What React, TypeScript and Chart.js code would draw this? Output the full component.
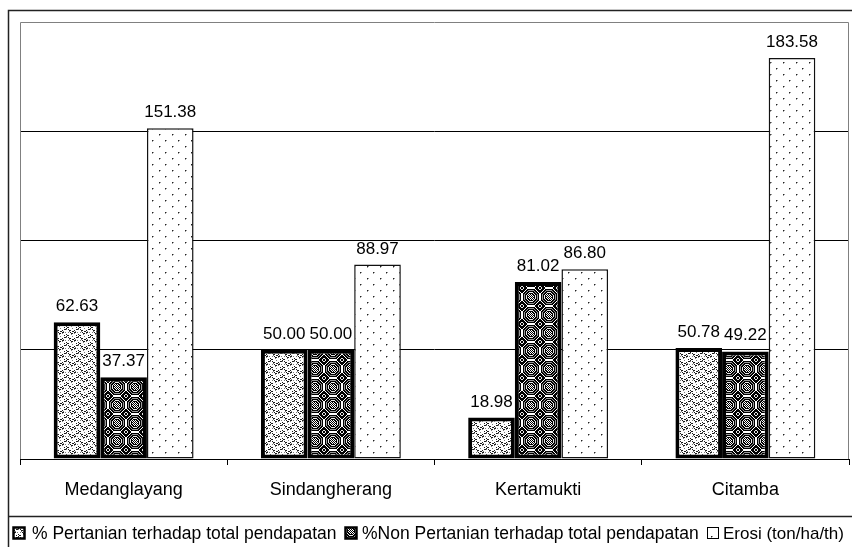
import { useEffect, useRef } from "react";
import { Chart, registerables } from "chart.js";

Chart.register(...registerables);

const categories = ["Medanglayang", "Sindangherang", "Kertamukti", "Citamba"];
const pertanian = [62.63, 50.0, 18.98, 50.78];
const nonPertanian = [37.37, 50.0, 81.02, 49.22];
const erosi = [151.38, 88.97, 86.8, 183.58];
const seriesLabels = [
  "% Pertanian terhadap total pendapatan",
  "%Non Pertanian terhadap total pendapatan",
  "Erosi (ton/ha/th)",
];
const yMin = 0;
const yMax = 200;
const yStep = 50;

const FONT = '"Liberation Sans", Arial, sans-serif';

function makeTile(w: number, h: number, fn: (x: number, y: number) => string | null) {
  const c = document.createElement("canvas");
  c.width = w;
  c.height = h;
  const g = c.getContext("2d")!;
  g.fillStyle = "#fff";
  g.fillRect(0, 0, w, h);
  for (let y = 0; y < h; y++) {
    for (let x = 0; x < w; x++) {
      const col = fn(x, y);
      if (col) {
        g.fillStyle = col;
        g.fillRect(x, y, 1, 1);
      }
    }
  }
  return c;
}

function makePatterns(ctx: CanvasRenderingContext2D) {
  // zigzag chevrons
  const t1 = makeTile(12, 8, (x, y) => {
    const yz = Math.round(Math.abs(x - 6) / 2);
    const yy = y % 4;
    const row = Math.floor(y / 4);
    const shift = row === 0 ? 0 : 2;
    if (yy === (yz + shift) % 4 && (x + row * 2) % 4 !== 3) return "#1a1a1a";
    if (yy === (yz + shift + 1) % 4 && (x + row) % 3 === 0) return "#7a7a7a";
    return null;
  });
  // concentric octagons, dark
  const t2 = makeTile(18, 18, (x, y) => {
    const dx = Math.abs(x - 8.5);
    const dy = Math.abs(y - 8.5);
    const d = Math.max(dx, dy, (dx + dy) * 0.72);
    if (d < 3) return (x + y) % 2 === 0 ? "#000" : "#fff";
    const r = Math.floor(d - 3);
    const cols = ["#000", "#e8e8e8", "#000", "#9a9a9a", "#000", "#fff", "#000"];
    return cols[r % cols.length];
  });
  // sparse dots
  const t3 = makeTile(13, 12, (x, y) => {
    if ((x === 3 && y === 2) || (x === 9 && y === 8)) return "#222";
    if ((x === 4 && y === 2) || (x === 10 && y === 8) || (x === 3 && y === 3) || (x === 9 && y === 9)) return "#999";
    return null;
  });
  return [
    ctx.createPattern(t1, "repeat")!,
    ctx.createPattern(t2, "repeat")!,
    ctx.createPattern(t3, "repeat")!,
  ];
}

export default function App() {
  const ref = useRef<HTMLCanvasElement>(null);

  useEffect(() => {
    const canvas = ref.current!;
    const ctx0 = canvas.getContext("2d")!;
    const pats = makePatterns(ctx0);
    const borderWidths = [4, 4, 1.5];

    const framePlugin = {
      id: "frame",
      beforeDraw(chart: any) {
        const c = chart.ctx;
        c.save();
        c.fillStyle = "#fff";
        c.fillRect(0, 0, chart.width, chart.height);
        c.restore();
      },
      beforeDatasetsDraw(chart: any) {
        const c = chart.ctx;
        const a = chart.chartArea;
        c.save();
        c.strokeStyle = "#808080";
        c.lineWidth = 1;
        c.beginPath();
        c.moveTo(a.left + 0.5, a.bottom);
        c.lineTo(a.left + 0.5, a.top + 0.5);
        c.lineTo(a.right - 0.5, a.top + 0.5);
        c.lineTo(a.right - 0.5, a.bottom);
        c.stroke();
        c.restore();
      },
      afterDatasetsDraw(chart: any) {
        const c = chart.ctx;
        c.save();
        c.font = `17px ${FONT}`;
        c.fillStyle = "#000";
        c.textAlign = "center";
        c.textBaseline = "alphabetic";
        chart.data.datasets.forEach((ds: any, i: number) => {
          const meta = chart.getDatasetMeta(i);
          meta.data.forEach((el: any, j: number) => {
            const v = ds.data[j] as number;
            c.fillText(v.toFixed(2), el.x, el.y - 11);
          });
        });
        c.restore();
      },
      afterDraw(chart: any) {
        const c = chart.ctx;
        c.save();
        // outer frame
        c.strokeStyle = "#222";
        c.lineWidth = 1.5;
        c.strokeRect(8.5, 10.5, 900, 700);
        // legend frame top
        c.beginPath();
        c.moveTo(8, 516.5);
        c.lineTo(chart.width, 516.5);
        c.stroke();
        // legend items
        const boxX = [13, 345, 707];
        const textX = [32, 362, 723];
        const maxW = [308, 340, 126];
        const sizes = [17.5, 17.5, 17];
        c.textBaseline = "alphabetic";
        c.textAlign = "left";
        chart.data.datasets.forEach((ds: any, i: number) => {
          const s = 12;
          const bx = boxX[i];
          const by = 527;
          c.fillStyle = ds.backgroundColor;
          c.fillRect(bx, by, s, s);
          c.strokeStyle = "#000";
          c.lineWidth = i < 2 ? 2.5 : 1;
          c.strokeRect(bx + 0.5, by + 0.5, s - 1, s - 1);
          c.fillStyle = "#000";
          c.font = `${sizes[i]}px ${FONT}`;
          c.fillText(ds.label, textX[i], 539, maxW[i]);
        });
        c.restore();
      },
    };

    const chart = new Chart(canvas, {
      type: "bar",
      data: {
        labels: categories,
        datasets: [
          { label: seriesLabels[0], data: pertanian, backgroundColor: pats[0] as any, borderColor: "#000", borderWidth: borderWidths[0], borderSkipped: false },
          { label: seriesLabels[1], data: nonPertanian, backgroundColor: pats[1] as any, borderColor: "#000", borderWidth: borderWidths[1], borderSkipped: false },
          { label: seriesLabels[2], data: erosi, backgroundColor: pats[2] as any, borderColor: "#111", borderWidth: borderWidths[2], borderSkipped: false },
        ],
      },
      options: {
        animation: false,
        responsive: false,
        maintainAspectRatio: false,
        layout: { padding: { left: 20, top: 22, right: 3, bottom: 31 } },
        datasets: { bar: { categoryPercentage: 0.675, barPercentage: 1 } },
        plugins: { legend: { display: false }, tooltip: { enabled: false } },
        scales: {
          x: {
            grid: { offset: true, drawOnChartArea: false, tickLength: 6, color: "#000", lineWidth: 1 },
            border: { display: true, color: "#000", width: 1 },
            ticks: { font: { family: FONT, size: 18 }, color: "#000", padding: 14 },
            afterFit: (s: any) => {
              s.height = 57;
            },
          },
          y: {
            min: yMin,
            max: yMax,
            ticks: { stepSize: yStep, display: false },
            grid: {
              drawTicks: false,
              lineWidth: 1,
              color: (c: any) => {
                const v = c.tick?.value;
                return v === yMin || v === yMax ? "rgba(0,0,0,0)" : "#000";
              },
            },
            border: { display: false },
            afterFit: (s: any) => {
              s.width = 0;
            },
          },
        },
      },
      plugins: [framePlugin],
    });

    return () => chart.destroy();
  }, []);

  return (
    <div style={{ position: "absolute", left: 0, top: 0, width: 852, height: 547 }}>
      <canvas ref={ref} width={852} height={547} style={{ display: "block", width: 852, height: 547 }} />
    </div>
  );
}
